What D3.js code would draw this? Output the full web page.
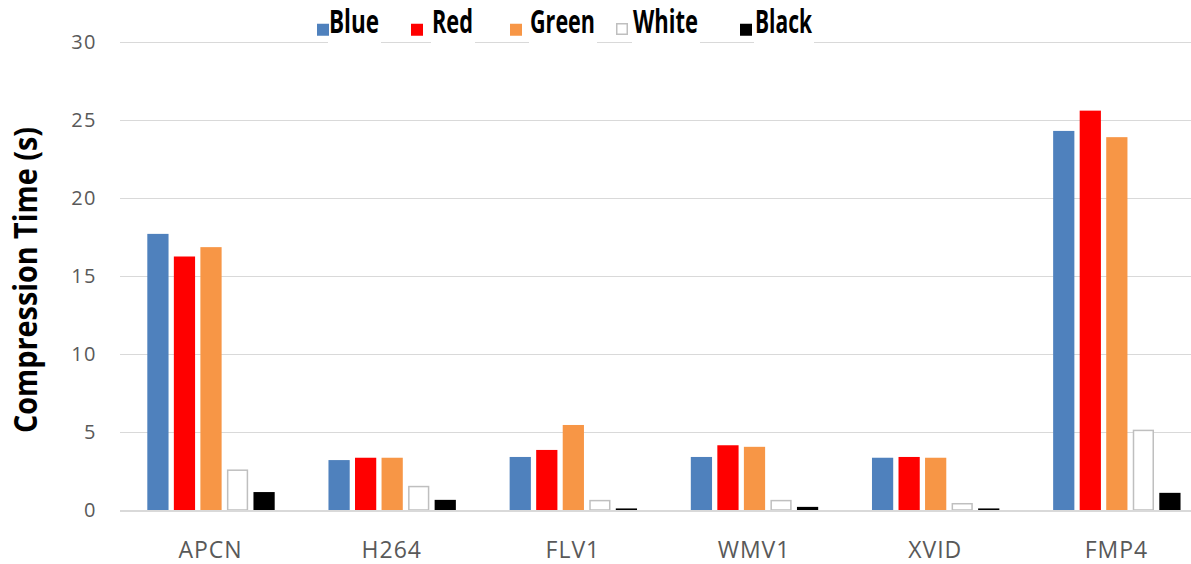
<!DOCTYPE html>
<meta charset="utf-8">
<style>
body { margin: 0; background: #fff; }
svg { display: block; font-family: "Open Sans", sans-serif; }
.grid line { stroke: #d9d9d9; stroke-width: 1; }
.tick-label { fill: #595959; font-size: 20px; }
.cat-label { fill: #595959; font-size: 23px; }
.legend-text { fill: #000; font-size: 32px; font-weight: bold; }
.axis-title { fill: #000; font-size: 32px; font-weight: bold; }
</style>
<body>
<script src="https://d3js.org/d3.v7.min.js"></script>
<script>
var w = 1191, h = 564;

var categories = ["APCN", "H264", "FLV1", "WMV1", "XVID", "FMP4"];
var seriesNames = ["Blue", "Red", "Green", "White", "Black"];
var blueVals  = [17.7, 3.2, 3.4, 3.4, 3.35, 24.3];
var redVals   = [16.25, 3.35, 3.85, 4.15, 3.4, 25.6];
var greenVals = [16.85, 3.35, 5.45, 4.05, 3.35, 23.9];
var whiteVals = [2.6, 1.55, 0.65, 0.65, 0.45, 5.15];
var blackVals = [1.15, 0.65, 0.1, 0.2, 0.1, 1.1];
var yTicks = [0, 5, 10, 15, 20, 25, 30];

var values = [blueVals, redVals, greenVals, whiteVals, blackVals];
var fills = ["#4f81bd", "#ff0000", "#f79646", "#ffffff", "#000000"];
var strokes = ["none", "none", "none", "#bfbfbf", "none"];

var svg = d3.select("body").append("svg")
    .attr("width", w)
    .attr("height", h);

var x0 = d3.scaleBand().domain(categories).range([120, 1207]);
var x1 = d3.scaleBand().domain(seriesNames).range([22, 160]).padding(0.2);
var y = d3.scaleLinear().domain([0, 30]).range([510, 42]);

// gridlines
svg.append("g").attr("class", "grid")
  .selectAll("line")
  .data(yTicks.filter(function(d){ return d > 0; }))
  .enter().append("line")
  .attr("x1", 120).attr("x2", w)
  .attr("y1", function(d){ return y(d) + 0.5; })
  .attr("y2", function(d){ return y(d) + 0.5; });

svg.append("g")
  .selectAll("text")
  .data(yTicks)
  .enter().append("text")
  .attr("class", "tick-label")
  .attr("x", 97)
  .attr("y", function(d){ return y(d) + 7; })
  .attr("text-anchor", "end")
  .attr("letter-spacing", 1.5)
  .text(function(d){ return d; });

// bars
var rows = [];
categories.forEach(function(c, i){
  seriesNames.forEach(function(s, j){
    rows.push({cat: c, s: s, j: j, v: values[j][i]});
  });
});

svg.append("g")
  .selectAll("rect")
  .data(rows)
  .enter().append("rect")
  .attr("x", function(d){ return x0(d.cat) + x1(d.s) + (d.j == 3 ? 0.75 : 0); })
  .attr("y", function(d){ return y(d.v) + (d.j == 3 ? 0.75 : 0); })
  .attr("width", function(d){ return x1.bandwidth() - (d.j == 3 ? 1.5 : 0); })
  .attr("height", function(d){ return Math.max(0, y(0) - y(d.v) - (d.j == 3 ? 0.75 : 0)); })
  .attr("fill", function(d){ return fills[d.j]; })
  .attr("stroke", function(d){ return strokes[d.j]; })
  .attr("stroke-width", 1.5);

// baseline
svg.append("line")
  .attr("x1", 120).attr("x2", w)
  .attr("y1", y(0) + 1).attr("y2", y(0) + 1)
  .attr("stroke", "#d9d9d9").attr("stroke-width", 2);

// category labels
svg.append("g")
  .selectAll("text")
  .data(categories)
  .enter().append("text")
  .attr("class", "cat-label")
  .attr("x", function(d){ return x0(d) + x0.bandwidth() / 2; })
  .attr("y", 558)
  .attr("text-anchor", "middle")
  .attr("letter-spacing", 1)
  .text(function(d){ return d; });

// y axis title
svg.append("text")
  .attr("class", "axis-title")
  .attr("transform", "translate(37,433) rotate(-90)")
  .attr("textLength", 306)
  .attr("lengthAdjust", "spacingAndGlyphs")
  .text("Compression Time (s)");

// legend
var legendX = [317, 411, 510, 616, 740];
var legendTextX = [329, 432, 530, 633, 755];
var legendTextW = [50, 41, 65, 65, 57];

var leg = svg.append("g").selectAll("g")
  .data(seriesNames)
  .enter().append("g");

leg.append("rect")
  .attr("x", function(d, i){ return legendTextX[i] - 1; })
  .attr("y", 4)
  .attr("width", function(d, i){ return legendTextW[i] + 3; })
  .attr("height", 42)
  .attr("fill", "#fff");

leg.append("rect")
  .attr("x", function(d, i){ return legendX[i] + (i == 3 ? 0.75 : 0); })
  .attr("y", 23.75)
  .attr("width", function(d, i){ return i == 3 ? 10.5 : 12; })
  .attr("height", function(d, i){ return i == 3 ? 10.5 : 12; })
  .attr("fill", function(d, i){ return fills[i]; })
  .attr("stroke", function(d, i){ return strokes[i]; })
  .attr("stroke-width", 1.5);

leg.append("text")
  .attr("class", "legend-text")
  .attr("x", function(d, i){ return legendTextX[i]; })
  .attr("y", 33)
  .attr("textLength", function(d, i){ return legendTextW[i]; })
  .attr("lengthAdjust", "spacingAndGlyphs")
  .text(function(d){ return d; });
</script>
</body>
